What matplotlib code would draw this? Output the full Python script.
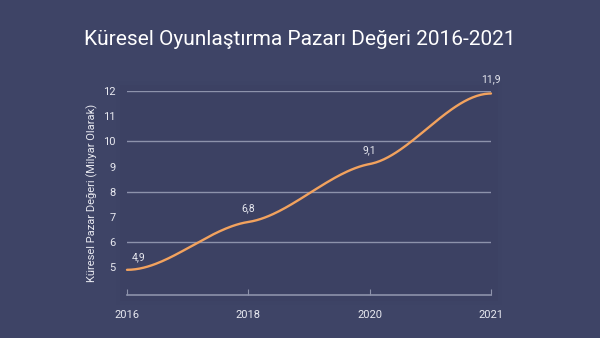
import numpy as np
import matplotlib.pyplot as plt
from matplotlib.patches import Rectangle

years = ['2016', '2018', '2020', '2021']
values = [4.9, 6.8, 9.1, 11.9]
value_labels = ['4,9', '6,8', '9,1', '11,9']
y_ticks = [5, 6, 7, 8, 9, 10, 11, 12]
grid_at = [6, 8, 10, 12]

bg = '#3e4466'
txt = '#e8e9f0'
orange = '#f2a25e'
grid_c = '#8d92ab'

plt.rcParams['font.family'] = ['Roboto', 'DejaVu Sans']

fig = plt.figure(figsize=(6, 3.38), dpi=100)
fig.patch.set_facecolor(bg)
ax = fig.add_axes([0.2117, 0.1272, 0.6066, 0.6036])
ax.set_facecolor('none')

# faint shadow behind the plot area
for pad, col in [(0.03, '#3d4365'), (0.018, '#3c4163')]:
    ax.add_patch(Rectangle((-pad, -pad * 1.6), 1 + 2 * pad, 1 + 3.2 * pad,
                           transform=ax.transAxes, facecolor=col, edgecolor='none',
                           zorder=0, clip_on=False))

# smooth line: cubic hermite through the points, tangents damped so it flattens at each year
x = np.arange(len(values))
y = np.array(values)
slopes = np.gradient(y) * 0.35
slopes[0] = 0
slopes[-1] = 0
xs, ys = [], []
for i in range(len(x) - 1):
    t = np.linspace(0, 1, 60)
    h00 = 2 * t**3 - 3 * t**2 + 1
    h10 = t**3 - 2 * t**2 + t
    h01 = -2 * t**3 + 3 * t**2
    h11 = t**3 - t**2
    xs.append(x[i] + t)
    ys.append(h00 * y[i] + h10 * slopes[i] + h01 * y[i + 1] + h11 * slopes[i + 1])
ax.plot(np.concatenate(xs), np.concatenate(ys), color=orange, lw=1.7, zorder=3,
        solid_capstyle='round', clip_on=False)

for i, (xi, yi, lab) in enumerate(zip(x, y, value_labels)):
    # first label sits to the right of its point so it clears the axis labels
    if i == 0:
        ax.text(xi + 0.04, yi + 0.3, lab, color=txt, fontsize=7.5, ha='left',
                va='bottom', clip_on=False, zorder=4)
    else:
        ax.text(xi, yi + 0.35, lab, color=txt, fontsize=7.5, ha='center', va='bottom',
                clip_on=False, zorder=4)

for g in grid_at:
    ax.axhline(g, color=grid_c, lw=1, zorder=1)

ax.set_xlim(0, len(values) - 1)
ax.set_ylim(3.9, 12)
ax.set_xticks(x)
ax.set_xticklabels(years)
ax.set_yticks(y_ticks)
ax.tick_params(axis='x', colors=grid_c, labelcolor=txt, labelsize=8, length=4,
               direction='in', pad=11)
ax.tick_params(axis='y', length=0, labelcolor=txt, labelsize=8, pad=8)
for side in ['top', 'right', 'left']:
    ax.spines[side].set_visible(False)
ax.spines['bottom'].set_color(grid_c)
ax.spines['bottom'].set_linewidth(1.2)

ax.set_ylabel('Küresel Pazar Değeri (Milyar Olarak)', color=txt, fontsize=8, labelpad=4)

fig.text(0.5, 0.882, 'Küresel Oyunlaştırma Pazarı Değeri 2016-2021', color='white',
         fontsize=15, ha='center', va='center')

fig.savefig('out.png', dpi=100, facecolor=bg)
